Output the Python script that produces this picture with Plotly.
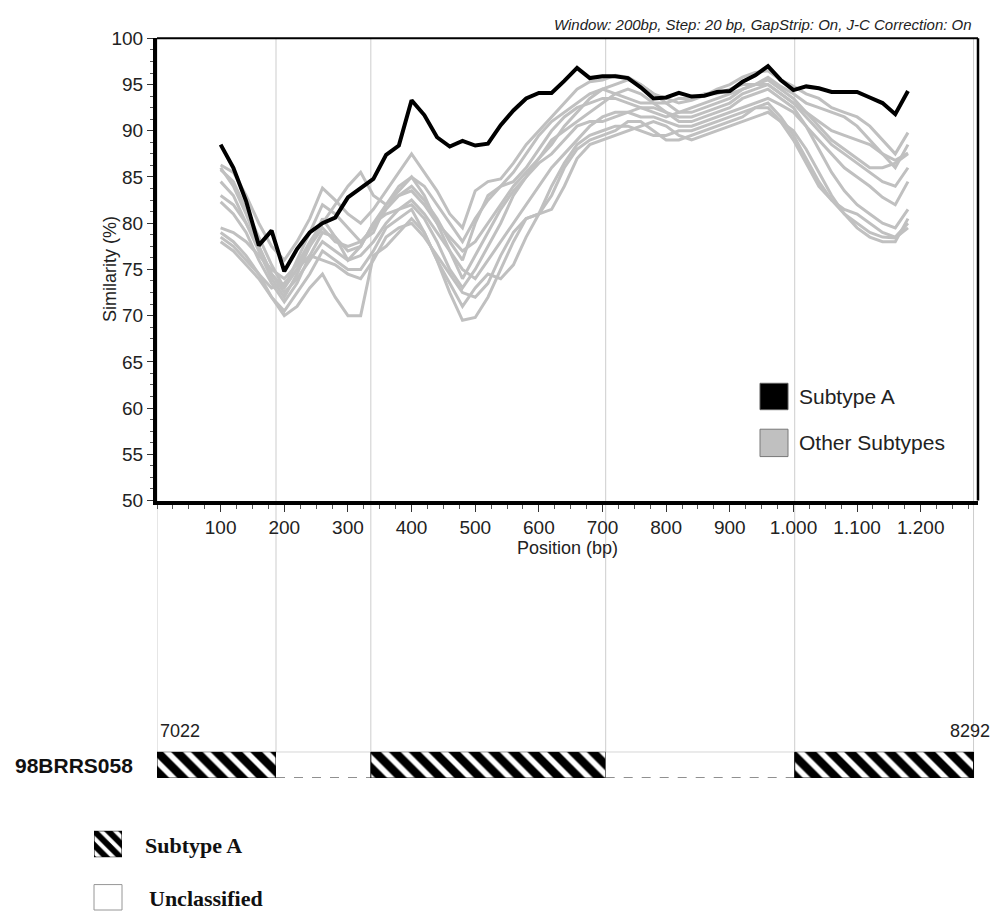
import plotly.graph_objects as go

W, H = 1006, 921


def px(x):
    return x / W


def py(y):
    return 1 - y / H


# ---------------- data ----------------
POSITIONS = list(range(100, 1181, 20))

SUBTYPE_A = [88.5, 86.0, 82.4, 77.6, 79.2, 74.8, 77.2, 79.0, 80.0, 80.6,
             82.8, 83.8, 84.8, 87.4, 88.4, 93.3, 91.7, 89.3, 88.3, 88.9,
             88.4, 88.6, 90.6, 92.2, 93.5, 94.1, 94.1, 95.4, 96.8, 95.7,
             95.9, 95.9, 95.7, 94.7, 93.5, 93.6, 94.1, 93.7, 93.8, 94.2,
             94.3, 95.3, 96.0, 97.0, 95.5, 94.4, 94.8, 94.6, 94.2, 94.2,
             94.2, 93.6, 93.0, 91.8, 94.3]

OTHER_1 = [86.3, 85.5, 83.0, 80.0, 77.5, 76.0, 78.0, 80.5, 83.8, 82.5,
           81.0, 80.0, 81.5, 83.5, 85.5, 87.5, 85.5, 83.5, 81.0, 79.5,
           83.5, 84.5, 84.8, 86.5, 88.5, 90.0, 91.5, 93.0, 94.5, 95.3,
           95.5, 96.0, 95.8, 95.0, 94.0, 93.5, 93.0, 93.3, 93.8, 94.5,
           95.0, 95.8, 96.3, 96.5, 95.5, 94.8, 94.0, 93.5, 92.5, 92.0,
           91.5, 90.5, 89.0, 87.5, 89.8]
OTHER_2 = [85.8, 84.5, 81.5, 78.5, 75.5, 73.0, 76.0, 79.0, 82.0, 81.0,
           79.5, 78.0, 79.5, 81.5, 83.0, 83.5, 82.0, 80.0, 77.0, 74.0,
           76.5, 79.0, 81.5, 83.5, 85.0, 87.0, 88.5, 90.5, 92.0, 93.5,
           94.5, 95.0, 95.5, 95.0, 94.0, 93.0, 92.0, 92.0, 92.5, 93.0,
           93.5, 94.5, 95.0, 95.5, 94.5, 93.5, 92.0, 91.0, 90.0, 89.5,
           89.0, 88.5, 87.5, 86.8, 87.6]
OTHER_3 = [84.5, 83.0, 80.0, 77.0, 74.0, 72.0, 74.5, 77.5, 80.5, 78.5,
           76.0, 77.5, 80.0, 82.0, 83.5, 85.0, 83.0, 80.0, 78.5, 77.0,
           78.0, 80.0, 82.0, 84.0, 85.5, 87.0, 89.0, 90.0, 91.0, 92.0,
           93.0, 94.0, 94.5, 94.0, 93.0, 92.0, 91.5, 91.5, 92.0, 92.5,
           93.0, 94.0, 94.5, 95.0, 94.0, 93.0, 91.5, 90.0, 88.5, 87.5,
           86.5, 85.5, 84.5, 84.0, 86.0]
OTHER_4 = [79.5, 79.0, 78.0, 76.5, 75.0, 74.0, 75.5, 78.0, 80.0, 82.0,
           84.0, 85.5, 83.0, 82.0, 83.0, 84.0, 82.5, 80.5, 78.0, 76.0,
           80.0, 83.0, 84.0, 84.5, 86.0, 88.0, 90.0, 91.5, 92.5, 93.0,
           93.5, 93.5, 93.0, 92.5, 92.0, 91.5, 92.0, 92.5, 93.0, 93.5,
           94.0, 94.5, 95.0, 95.8, 94.8, 94.0, 93.0, 92.5, 92.0, 91.5,
           90.5, 89.0, 87.5, 86.0, 88.5]
OTHER_5 = [83.0, 82.0, 80.0, 77.5, 74.5, 72.5, 74.0, 76.0, 78.0, 77.0,
           76.0, 76.5, 78.0, 80.0, 81.5, 82.5, 81.0, 79.0, 77.0, 75.0,
           74.0, 76.0, 78.0, 80.0, 82.0, 84.0, 86.0, 87.5, 89.0, 90.5,
           91.5, 92.0, 92.0, 91.5, 91.5, 91.0, 90.5, 90.5, 91.0, 91.5,
           92.0, 92.5, 93.0, 93.5, 92.8, 92.0, 90.5, 89.0, 87.5, 86.0,
           85.0, 84.0, 82.8, 82.0, 84.5]
OTHER_6 = [82.3, 81.0, 79.0, 76.0, 73.5, 71.5, 73.5, 76.5, 79.0, 78.5,
           77.0, 77.5, 80.0, 81.0, 81.5, 82.0, 80.5, 78.0, 75.0, 73.0,
           75.0, 77.5, 80.0, 83.0, 85.0, 86.5, 87.5, 89.0, 90.5, 91.0,
           91.0, 91.5, 92.0, 92.5, 92.5, 92.0, 91.0, 91.0, 91.5, 92.0,
           92.5, 93.5, 94.0, 94.5, 93.5, 92.5, 90.5, 88.0, 85.5, 83.5,
           82.0, 81.0, 80.0, 79.5, 81.5]
OTHER_7 = [79.0, 78.0, 76.5, 74.5, 72.0, 70.5, 72.5, 74.5, 77.0, 76.0,
           75.0, 75.0, 77.0, 79.5, 80.5, 81.5, 79.0, 76.0, 73.5, 71.0,
           73.0, 74.5, 74.0, 75.5, 78.5, 81.0, 84.0, 86.5, 88.5, 89.5,
           90.0, 90.5, 90.5, 90.0, 89.5, 89.5, 90.0, 90.0, 90.5, 91.0,
           91.5, 92.0, 92.5, 92.5, 91.0, 89.0, 86.5, 84.0, 82.5, 81.5,
           81.0, 80.0, 79.0, 78.5, 80.0]
OTHER_8 = [78.5, 77.5, 76.0, 74.5, 73.0, 73.5, 75.0, 76.5, 76.0, 75.5,
           74.5, 74.0, 76.0, 78.5, 79.5, 80.0, 78.5, 76.5, 74.5, 72.5,
           72.0, 73.5, 76.5, 79.0, 80.5, 81.0, 81.5, 84.0, 87.0, 88.5,
           89.0, 89.5, 90.0, 90.5, 91.0, 90.5, 89.5, 89.0, 89.5, 90.0,
           90.5, 91.0, 91.5, 92.0, 91.0, 90.0, 88.0, 85.5, 83.0, 81.0,
           80.0, 79.0, 78.5, 78.4, 79.5]
OTHER_9 = [86.0, 84.0, 81.0, 77.5, 74.5, 73.0, 75.0, 77.5, 79.5, 78.0,
           77.5, 78.0, 79.0, 82.0, 84.0, 85.0, 84.0, 82.0, 80.0, 78.0,
           80.5, 82.5, 84.0, 85.5, 87.5, 89.5, 91.0, 92.0, 93.0, 94.0,
           94.5, 94.0, 93.5, 93.0, 93.0, 93.0, 93.5, 93.5, 94.0, 94.0,
           94.5, 95.0, 95.0, 95.0, 94.0, 93.0, 92.0, 90.5, 89.0, 88.0,
           87.0, 86.0, 86.0, 86.5, 87.5]
OTHER_10 = [78.0, 77.0, 75.5, 74.0, 72.0, 70.0, 71.0, 73.0, 74.5, 72.0,
            70.0, 70.0, 76.5, 77.5, 79.0, 80.5, 79.0, 76.0, 72.5, 69.5,
            69.8, 72.0, 75.0, 78.0, 80.5, 81.0, 83.0, 86.0, 88.0, 89.0,
            89.5, 90.0, 91.0, 91.0, 90.0, 89.0, 89.0, 89.5, 90.0, 90.5,
            91.0, 91.5, 92.5, 93.0, 91.5, 89.5, 87.0, 84.5, 82.5, 81.0,
            79.5, 78.5, 78.0, 78.0, 80.5]

OTHER_SUBTYPES = [OTHER_1, OTHER_2, OTHER_3, OTHER_4, OTHER_5,
                  OTHER_6, OTHER_7, OTHER_8, OTHER_9, OTHER_10]

X_TICKS = [100, 200, 300, 400, 500, 600, 700, 800, 900, 1000, 1100, 1200]
X_TICK_TEXT = ["100", "200", "300", "400", "500", "600", "700", "800",
               "900", "1.000", "1.100", "1.200"]
Y_TICKS = [50, 55, 60, 65, 70, 75, 80, 85, 90, 95, 100]

# recombination map (positions relative to query start, bp)
BREAKPOINTS = [0, 187, 336, 705, 1002, 1283]
SEGMENT_TYPES = ["A", "U", "A", "U", "A"]
SEQ_START, SEQ_END = "7022", "8292"
QUERY_NAME = "98BRRS058"

X_RANGE = [0, 1290]

GRAY = "rgb(192,192,192)"
FONT = "Liberation Sans, Arial, sans-serif"
SERIF = "Liberation Serif, Times New Roman, serif"

fig = go.Figure()

for ys in OTHER_SUBTYPES:
    fig.add_trace(go.Scatter(x=POSITIONS, y=ys, mode="lines",
                             line=dict(color=GRAY, width=3),
                             showlegend=False, hoverinfo="skip"))
fig.add_trace(go.Scatter(x=POSITIONS, y=SUBTYPE_A, mode="lines",
                         line=dict(color="black", width=4),
                         showlegend=False, hoverinfo="skip"))

# recombination bar
starts = BREAKPOINTS[:-1]
lengths = [b - a for a, b in zip(BREAKPOINTS[:-1], BREAKPOINTS[1:])]
fig.add_trace(go.Bar(
    x=lengths, base=starts, y=[0.5] * len(lengths), orientation="h",
    width=1, xaxis="x", yaxis="y2", showlegend=False, hoverinfo="skip",
    marker=dict(
        color="white",
        line=dict(color=["black" if t == "A" else "rgba(0,0,0,0)" for t in SEGMENT_TYPES],
                  width=[1 if t == "A" else 0 for t in SEGMENT_TYPES]),
        pattern=dict(shape=["\\" if t == "A" else "" for t in SEGMENT_TYPES],
                     fgcolor="black", bgcolor="white", fgopacity=1,
                     size=14, solidity=0.6),
    ),
))

# legend icon for hatched subtype (bottom legend)
fig.add_trace(go.Bar(
    x=[1], base=[0], y=[0.5], orientation="h", width=1,
    xaxis="x3", yaxis="y3", showlegend=False, hoverinfo="skip",
    marker=dict(color="white", line=dict(color="black", width=1),
                pattern=dict(shape="\\", fgcolor="black", bgcolor="white",
                             fgopacity=1, size=10, solidity=0.6)),
))

shapes = []
# vertical breakpoint lines from plot top down to the bar
bar_top = py(759)
for b in BREAKPOINTS:
    shapes.append(dict(type="line", xref="x", yref="paper", x0=b, x1=b,
                       y0=bar_top, y1=py(29), layer="below",
                       line=dict(color="rgb(205,205,205)", width=1)))
# top and right borders of plot
shapes.append(dict(type="line", xref="x domain", yref="y domain", x0=0, x1=1,
                   y0=1, y1=1, line=dict(color="black", width=2)))
shapes.append(dict(type="line", xref="x domain", yref="y domain", x0=1, x1=1,
                   y0=0, y1=1, line=dict(color="black", width=2.5)))
# unclassified segment borders
for a, b, t in zip(BREAKPOINTS[:-1], BREAKPOINTS[1:], SEGMENT_TYPES):
    if t == "U":
        shapes.append(dict(type="line", xref="x", yref="y2", x0=a, x1=b, y0=1, y1=1,
                           line=dict(color="rgb(150,150,150)", width=1)))
        shapes.append(dict(type="line", xref="x", yref="y2", x0=a, x1=b, y0=0, y1=0,
                           line=dict(color="black", width=1, dash="dash")))

# plot legend squares
shapes.append(dict(type="rect", xref="paper", yref="paper",
                   x0=px(760), x1=px(788), y0=py(409), y1=py(382),
                   fillcolor="black", line=dict(color="rgb(90,90,90)", width=1)))
shapes.append(dict(type="rect", xref="paper", yref="paper",
                   x0=px(760), x1=px(788), y0=py(457), y1=py(429),
                   fillcolor=GRAY, line=dict(color="rgb(120,120,120)", width=1)))
# unclassified legend square
shapes.append(dict(type="rect", xref="paper", yref="paper",
                   x0=px(94), x1=px(122), y0=py(921), y1=py(895),
                   fillcolor="white", line=dict(color="rgb(150,150,150)", width=1)))

annotations = [
    dict(text="<i>Window: 200bp, Step: 20 bp, GapStrip: On, J-C Correction: On</i>",
         x=px(974), y=py(15), xanchor="right", yanchor="middle",
         font=dict(size=15, color="#222")),
    dict(text="Similarity (%)", x=px(110), y=py(265), textangle=-90,
         xanchor="center", yanchor="middle", font=dict(size=18, color="#222")),
    dict(text="Position (bp)", x=px(567), y=py(551), xanchor="center",
         yanchor="middle", font=dict(size=18, color="#222")),
    dict(text="Subtype A", x=px(797), y=py(396), xanchor="left", yanchor="middle",
         font=dict(size=21, color="#222")),
    dict(text="Other Subtypes", x=px(797), y=py(443), xanchor="left", yanchor="middle",
         font=dict(size=21, color="#222")),
    dict(text=SEQ_START, x=px(180), y=py(738), xanchor="center", yanchor="middle",
         font=dict(size=18, color="#222")),
    dict(text=SEQ_END, x=px(970), y=py(738), xanchor="center", yanchor="middle",
         font=dict(size=18, color="#222")),
    dict(text="<b>" + QUERY_NAME + "</b>", x=px(74), y=py(773), xanchor="center",
         yanchor="middle", font=dict(size=21, color="#111")),
    dict(text="<b>Subtype A</b>", x=px(143), y=py(855), xanchor="left", yanchor="middle",
         font=dict(size=22, family=SERIF, color="#111")),
    dict(text="<b>Unclassified</b>", x=px(147), y=py(909), xanchor="left", yanchor="middle",
         font=dict(size=22, family=SERIF, color="#111")),
]
for a in annotations:
    a.update(xref="paper", yref="paper", showarrow=False)

fig.update_layout(
    width=W, height=H,
    margin=dict(l=0, r=0, t=0, b=0),
    paper_bgcolor="white", plot_bgcolor="rgba(0,0,0,0)",
    font=dict(family=FONT, color="#222"),
    showlegend=False,
    shapes=shapes, annotations=annotations,
    xaxis=dict(domain=[px(157), px(978)], range=X_RANGE, anchor="y",
               showgrid=False, zeroline=False, showline=True,
               linecolor="black", linewidth=4,
               tickmode="array", tickvals=X_TICKS, ticktext=X_TICK_TEXT,
               ticks="outside", ticklen=7, tickwidth=1, tickcolor="#333",
               tickfont=dict(size=19, color="#222"),
               minor=dict(dtick=25, tick0=0, ticks="outside", ticklen=4,
                          tickwidth=1, tickcolor="#555")),
    yaxis=dict(domain=[py(502), py(29)], range=[50, 100], anchor="x",
               showgrid=False, zeroline=False, showline=True,
               linecolor="black", linewidth=4,
               tickmode="array", tickvals=Y_TICKS,
               ticks="outside", ticklen=6, tickwidth=1, tickcolor="#333",
               tickfont=dict(size=19, color="#222"),
               minor=dict(dtick=1.25, tick0=50, ticks="outside", ticklen=3,
                          tickwidth=1, tickcolor="#555")),
    yaxis2=dict(domain=[py(786), py(759)], range=[0, 1], anchor="x",
                visible=False, fixedrange=True),
    xaxis3=dict(domain=[px(94), px(122)], range=[0, 1], anchor="y3",
                visible=False),
    yaxis3=dict(domain=[py(867), py(840)], range=[0, 1], anchor="x3",
                visible=False),
    bargap=0,
)

fig.write_html("out.html",
               config={"displayModeBar": False, "staticPlot": True},
               post_script="document.body.style.margin='0px';document.body.style.overflow='hidden';")
